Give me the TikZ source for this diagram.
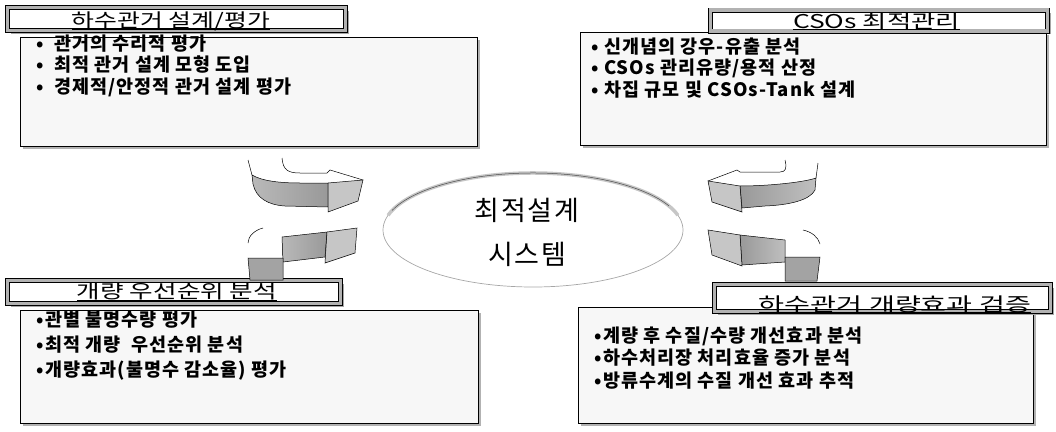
\documentclass[tikz,border=0pt]{standalone}
\usepackage{fontspec}
\usepackage{graphicx}
\newfontfamily\kr{Noto Sans CJK KR}
\usetikzlibrary{shapes.geometric,shadows}
\tikzset{
  cbox/.style={draw=black, line width=0.9pt, fill=gray!6, anchor=north west, inner sep=0pt, outer sep=0pt,
    drop shadow={shadow xshift=2.5pt, shadow yshift=-2.5pt, fill=gray!60, opacity=1}},
  tbox/.style={draw=black, line width=0.7pt, double=gray!60, double distance=3.6pt, fill=white, inner sep=0pt,
    drop shadow={shadow xshift=3pt, shadow yshift=-3pt, fill=gray!70, opacity=1}},
  ttext/.style={font=\kr\fontsize{19}{24}\selectfont, inner sep=0pt, anchor=base},
  uline/.style={draw=black, line width=0.9pt},
  btext/.style={font=\kr\bfseries\fontsize{18.5}{21.5}\selectfont\addfontfeatures{LetterSpace=5.8}, align=left, anchor=west, inner sep=0pt},
  ctext/.style={font=\kr\fontsize{27}{44}\selectfont\addfontfeatures{LetterSpace=6}, align=center, inner sep=0pt},
  band/.style={draw=black, line width=0.5pt, left color=gray!55, right color=gray!80},
  rband/.style={draw=black, line width=0.5pt, left color=gray!80, right color=gray!50},
  head/.style={draw=black, line width=0.5pt, fill=gray!45},
  block/.style={draw=black, line width=0.5pt, fill=gray!72},
  edge/.style={draw=black, line width=0.5pt},
}
\begin{document}
\begin{tikzpicture}[x=1pt,y=-1pt]
\useasboundingbox (0,0) rectangle (1056,431);

% content boxes
\node[cbox, minimum width=457pt, minimum height=109pt] (tl) at (20,37) {};
\node[cbox, minimum width=466pt, minimum height=113pt] (tr) at (580,32) {};
\node[cbox, minimum width=458pt, minimum height=113pt] (bl) at (20,310) {};
\node[cbox, minimum width=455pt, minimum height=116pt] (br) at (578,307) {};

% title boxes
\node[tbox, minimum width=338pt, minimum height=23pt] (tlbox) at (176.5,19) {};
\node[tbox, minimum width=337pt, minimum height=21pt] (trbox) at (879,20.5) {};
\node[tbox, minimum width=333pt, minimum height=23pt] (blbox) at (174,292) {};
\node[tbox, minimum width=336pt, minimum height=27pt] (brbox) at (882.5,298) {};

% titles (underlined)
\node[ttext] (tltitle) at (171,27.5) {\resizebox{198pt}{\height}{하수관거 설계/평가}};
\node[ttext] (trtitle) at (876.5,28) {\resizebox{167pt}{\height}{CSOs 최적관리}};
\node[ttext] (bltitle) at (177,298.5) {\resizebox{200pt}{\height}{개량 우선순위 분석}};
\node[ttext] (brtitle) at (895,311) {\resizebox{272pt}{\height}{하수관거 개량효과 검증}};
\foreach \t in {tltitle,trtitle,bltitle,brtitle}
  \draw[uline] ([yshift=-1.6pt]\t.base west) -- ([yshift=-1.6pt]\t.base east);

% bullet texts
\node[btext] (tltext) at (36,65.5) {\makebox[18pt][l]{•}관거의 수리적 평가\\\makebox[18pt][l]{•}최적 관거 설계 모형 도입\\\makebox[18pt][l]{•}경제적/안정적 관거 설계 평가};
\node[btext] (trtext) at (591,68) {\makebox[13pt][l]{•}신개념의 강우-유출 분석\\\makebox[13pt][l]{•}CSOs 관리유량/용적 산정\\\makebox[13pt][l]{•}차집 규모 및 CSOs-Tank 설계};
\node[btext, font=\kr\bfseries\fontsize{18.5}{25}\selectfont\addfontfeatures{LetterSpace=5.8}] (bltext) at (36,346) {\makebox[9pt][l]{•}관별 불명수량 평가\\\makebox[9pt][l]{•}최적 개량\ \ 우선순위 분석\\\makebox[9pt][l]{•}개량효과(불명수 감소율) 평가};
\node[btext, font=\kr\bfseries\fontsize{18.5}{22.5}\selectfont\addfontfeatures{LetterSpace=5.8}] (brtext) at (594,358) {\makebox[9pt][l]{•}계량 후 수질/수량 개선효과 분석\\\makebox[9pt][l]{•}하수처리장 처리효율 증가 분석\\\makebox[9pt][l]{•}방류수계의 수질 개선 효과 추적};

% central ellipse
\node[ellipse, draw=gray!70, line width=0.7pt, minimum width=300pt, minimum height=114pt] (core) at (533,230) {};
\draw[gray!45, line width=3.5pt] (533,230) ++(195:150 and 57) arc[start angle=195, end angle=345, x radius=150, y radius=57];
\draw[black!70, line width=0.5pt] (533,230) ++(200:150 and 57) arc[start angle=200, end angle=335, x radius=150, y radius=57];
\node[ctext] (coretext) at (527,232) {최적설계\\시스템};

% top-left arrow (points right)
\draw[edge] (248,160) -- (252,175);
\draw[edge] (282,158) .. controls (283,170) and (288,173) .. (300,173) -- (327,173) -- (330,170) -- (363,180);
\draw[band] (252,175) .. controls (262,181) and (280,183) .. (300,183) -- (328,183) -- (328,207) -- (285,206)
  .. controls (268,205) and (256,198) .. (253,184) -- cycle;
\draw[head] (328,183) -- (363,180) -- (358,201) -- (328,212) -- cycle;

% bottom-left arrow (points right)
\draw[edge] (248,243) .. controls (248,236) and (255,230) .. (263,228);
\draw[band] (282,237) -- (327,232) -- (325,257) -- (283,262) -- cycle;
\draw[head] (327,232) -- (357,228) -- (355,253) -- (325,263) -- cycle;
\draw[block] (248,258) -- (283,258) -- (283,280) -- (250,280) -- cycle;

% top-right arrow (points left)
\draw[edge] (818,163) -- (816,178);
\draw[edge] (785,160) .. controls (787,168) and (786,172) .. (780,172) -- (740,172) -- (737,170) -- (708,181);
\draw[rband] (740,186) .. controls (770,186) and (805,182) .. (816,178) -- (815,190)
  .. controls (810,200) and (790,205) .. (765,206) -- (742,208) -- cycle;
\draw[head] (708,181) -- (740,186) -- (742,212) -- (712,202) -- cycle;

% bottom-right arrow (points left)
\draw[edge] (803,230) .. controls (812,232) and (818,237) .. (820,244);
\draw[rband] (740,235) -- (785,240) -- (785,262) -- (742,265) -- cycle;
\draw[head] (708,230) -- (740,235) -- (742,266) -- (712,255) -- cycle;
\draw[block] (785,257) -- (820,257) -- (817,281) -- (785,281) -- cycle;
\end{tikzpicture}
\end{document}
